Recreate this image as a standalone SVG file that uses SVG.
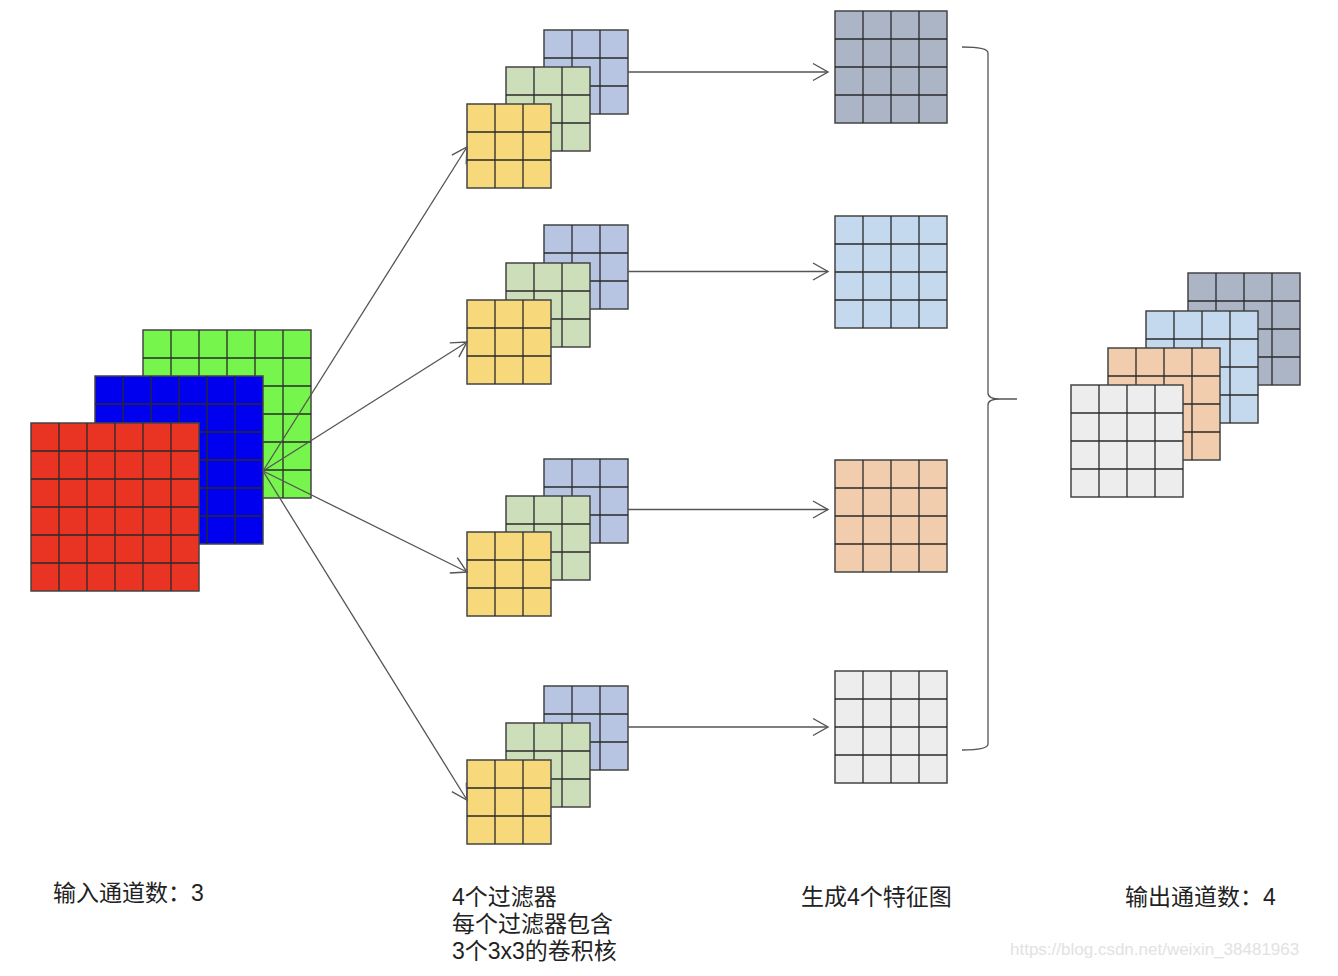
<svg xmlns="http://www.w3.org/2000/svg" xmlns:xlink="http://www.w3.org/1999/xlink" width="1338" height="976" viewBox="0 0 1338 976">
<style>
.lbl{font-family:"Liberation Sans","Noto Sans CJK SC",sans-serif;font-size:23px;fill:#222}
.wm{font-family:"Liberation Sans",sans-serif;font-size:17px;fill:#e2e2e2}
.conn{stroke:#555;stroke-width:1.3;fill:none}
.gl{stroke:#2a2a2a;stroke-width:1.3;fill:none}
.gb{stroke:#444;stroke-width:1.5}
</style>
<defs>
<marker id="arr" markerUnits="userSpaceOnUse" markerWidth="20" markerHeight="20" viewBox="-17 -10 20 20" refX="0" refY="0" orient="auto">
<path d="M-15,-8.5 L0,0 L-15,8.5" fill="none" stroke="#555" stroke-width="1.4"/>
</marker>
<g id="g6">
<rect class="gb" width="168" height="168"/>
<path class="gl" d="M28,0V168M56,0V168M84,0V168M112,0V168M140,0V168M0,28H168M0,56H168M0,84H168M0,112H168M0,140H168"/>
</g>
<g id="g3">
<rect class="gb" width="84" height="84"/>
<path class="gl" d="M28,0V84M56,0V84M0,28H84M0,56H84"/>
</g>
<g id="g4">
<rect class="gb" width="112" height="112"/>
<path class="gl" d="M28,0V112M56,0V112M84,0V112M0,28H112M0,56H112M0,84H112"/>
</g>
</defs>
<rect width="1338" height="976" fill="#fff"/>

<g id="input">
<use xlink:href="#g6" x="143" y="330" fill="#76F54C"/>
<use xlink:href="#g6" x="95" y="376" fill="#0000EE"/>
<use xlink:href="#g6" x="31" y="423" fill="#E93323"/>
</g>

<g id="filter1">
<use xlink:href="#g3" x="544" y="30" fill="#B7C5E3"/>
<use xlink:href="#g3" x="506" y="67" fill="#CCDFBA"/>
<use xlink:href="#g3" x="467" y="104" fill="#F7D97B"/>
</g>
<g id="filter2">
<use xlink:href="#g3" x="544" y="225" fill="#B7C5E3"/>
<use xlink:href="#g3" x="506" y="263" fill="#CCDFBA"/>
<use xlink:href="#g3" x="467" y="300" fill="#F7D97B"/>
</g>
<g id="filter3">
<use xlink:href="#g3" x="544" y="459" fill="#B7C5E3"/>
<use xlink:href="#g3" x="506" y="496" fill="#CCDFBA"/>
<use xlink:href="#g3" x="467" y="532" fill="#F7D97B"/>
</g>
<g id="filter4">
<use xlink:href="#g3" x="544" y="686" fill="#B7C5E3"/>
<use xlink:href="#g3" x="506" y="723" fill="#CCDFBA"/>
<use xlink:href="#g3" x="467" y="760" fill="#F7D97B"/>
</g>

<g id="map1"><use xlink:href="#g4" x="835" y="11" fill="#ABB5C6"/></g>
<g id="map2"><use xlink:href="#g4" x="835" y="216" fill="#C4D8EE"/></g>
<g id="map3"><use xlink:href="#g4" x="835" y="460" fill="#F1CDAE"/></g>
<g id="map4"><use xlink:href="#g4" x="835" y="671" fill="#EDEDED"/></g>

<g id="output">
<use xlink:href="#g4" x="1188" y="273" fill="#ABB5C6"/>
<use xlink:href="#g4" x="1146" y="311" fill="#C4D8EE"/>
<use xlink:href="#g4" x="1108" y="348" fill="#F1CDAE"/>
<use xlink:href="#g4" x="1071" y="385" fill="#EDEDED"/>
</g>

<g id="connectors">
<line class="conn" x1="263" y1="471" x2="467" y2="147" marker-end="url(#arr)"/>
<line class="conn" x1="263" y1="471" x2="467" y2="342" marker-end="url(#arr)"/>
<line class="conn" x1="263" y1="471" x2="467" y2="572" marker-end="url(#arr)"/>
<line class="conn" x1="263" y1="471" x2="467" y2="800" marker-end="url(#arr)"/>
<line class="conn" x1="628" y1="72" x2="828" y2="72" marker-end="url(#arr)"/>
<line class="conn" x1="628" y1="271.5" x2="828" y2="271.5" marker-end="url(#arr)"/>
<line class="conn" x1="628" y1="509.5" x2="828" y2="509.5" marker-end="url(#arr)"/>
<line class="conn" x1="628" y1="727" x2="828" y2="727" marker-end="url(#arr)"/>
</g>

<g id="brace">
<path class="conn" d="M962,47 Q988,47 988,53 V393 Q988,399 1000,399 H1017 M1000,399 Q988,399 988,405 V744 Q988,750 962,750"/>
</g>

<g id="labels">
<text class="lbl" x="53" y="901">输入通道数：3</text>
<text class="lbl" x="452" y="905">4个过滤器</text>
<text class="lbl" x="452" y="932">每个过滤器包含</text>
<text class="lbl" x="452" y="959">3个3x3的卷积核</text>
<text class="lbl" x="801" y="905">生成4个特征图</text>
<text class="lbl" x="1125" y="905">输出通道数：4</text>
<text class="wm" x="1010" y="955">https://blog.csdn.net/weixin_38481963</text>
</g>
</svg>
